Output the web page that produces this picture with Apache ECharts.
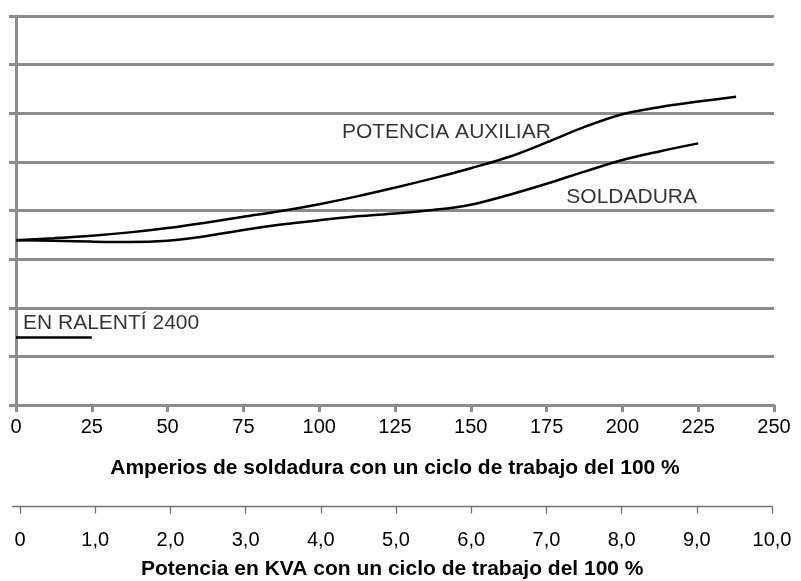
<!DOCTYPE html>
<html>
<head>
<meta charset="utf-8">
<script src="https://cdn.jsdelivr.net/npm/echarts@6/dist/echarts.min.js"></script>
<style>
  html, body { margin: 0; padding: 0; background: #fff; }
  #chart { width: 801px; height: 581px; }
</style>
</head>
<body>
<div id="chart"></div>
<script>
// Welding current (A) at which each curve is sampled
const amps = [0, 12.5, 25, 37.5, 50, 62.5, 75, 87.5, 100, 112.5, 125, 137.5, 150, 162.5, 175, 187.5, 200, 212.5, 225, 237.5];
// Engine speed curves (chart units, one per horizontal rule)
const potenciaAuxiliar = [3.39, 3.43, 3.48, 3.55, 3.64, 3.75, 3.87, 3.99, 4.13, 4.29, 4.47, 4.66, 4.87, 5.10, 5.40, 5.72, 5.98, 6.13, 6.24, 6.34];
const soldadura = [3.39, 3.38, 3.36, 3.35, 3.38, 3.47, 3.60, 3.71, 3.80, 3.88, 3.94, 4.01, 4.12, 4.32, 4.55, 4.80, 5.04, 5.22, 5.38];
// Idle speed segment
const ralentiX = [0, 25];
const ralentiY = 1.39;
// Axis tick labels
const ampTicks = [0, 25, 50, 75, 100, 125, 150, 175, 200, 225, 250];
const kvaTicks = [0, 1, 2, 3, 4, 5, 6, 7, 8, 9, 10];
const kvaLabels = ['0', '1,0', '2,0', '3,0', '4,0', '5,0', '6,0', '7,0', '8,0', '9,0', '10,0'];
// Curve captions: [x, y, text]
const notas = [
  [107.5, 5.62, 'POTENCIA AUXILIAR'],
  [181.5, 4.28, 'SOLDADURA'],
  [2.3, 1.68, 'EN RALENTÍ 2400']
];

const FONT = 'Liberation Sans';
const GRAY = '#8c8c8c';
const INK = '#000000';

const chart = echarts.init(document.getElementById('chart'), null, { renderer: 'canvas' });

const option = {
  backgroundColor: '#ffffff',
  animation: false,
  textStyle: { fontFamily: FONT },
  grid: [
    { left: 16, right: 27, top: 16, bottom: 176, containLabel: false },
    { left: 12.5, right: 29, top: 400, height: 106.7, containLabel: false }
  ],
  xAxis: [
    {
      type: 'value', gridIndex: 0, min: 0, max: 250, interval: 25,
      name: 'Amperios de soldadura con un ciclo de trabajo del 100 %',
      nameLocation: 'middle', nameGap: 52.5,
      nameTextStyle: { fontFamily: FONT, fontSize: 21, fontWeight: 'bold', color: INK },
      axisLine: { show: true, onZero: false, lineStyle: { color: GRAY, width: 3 } },
      axisTick: { show: true, length: 7, lineStyle: { color: GRAY, width: 3 } },
      axisLabel: { margin: 12, fontFamily: FONT, fontSize: 20, color: INK,
        formatter: v => ampTicks.includes(v) ? String(v) : '' },
      splitLine: { show: false }
    },
    {
      type: 'value', gridIndex: 1, min: -0.1, max: 10,
      name: 'Potencia en KVA con un ciclo de trabajo del 100 %',
      nameLocation: 'middle', nameGap: 52.5,
      nameTextStyle: { fontFamily: FONT, fontSize: 21, fontWeight: 'bold', color: INK },
      axisLine: { show: true, onZero: false, lineStyle: { color: '#707070', width: 1.3 } },
      axisTick: { show: true, length: 7, customValues: kvaTicks, lineStyle: { color: '#707070', width: 1.3 } },
      axisLabel: { margin: 24, fontFamily: FONT, fontSize: 20, color: INK, customValues: kvaTicks,
        formatter: v => kvaLabels[kvaTicks.indexOf(Math.round(v))] },
      splitLine: { show: false }
    }
  ],
  yAxis: [
    {
      type: 'value', gridIndex: 0, min: 0, max: 8, interval: 1,
      axisLine: { show: true, onZero: false, lineStyle: { color: GRAY, width: 3 } },
      axisTick: { show: true, length: 7, lineStyle: { color: GRAY, width: 3 } },
      axisLabel: { show: false },
      splitLine: { show: true, lineStyle: { color: GRAY, width: 3 } }
    },
    {
      type: 'value', gridIndex: 1, min: 0, max: 1, show: false,
      splitLine: { show: false }
    }
  ],
  series: [
    {
      name: 'POTENCIA AUXILIAR', type: 'line', xAxisIndex: 0, yAxisIndex: 0,
      data: amps.map((a, i) => [a, potenciaAuxiliar[i]]),
      smooth: 0.35, symbol: 'none', lineStyle: { color: '#000', width: 2.5 }, z: 5
    },
    {
      name: 'SOLDADURA', type: 'line', xAxisIndex: 0, yAxisIndex: 0,
      data: amps.slice(0, soldadura.length).map((a, i) => [a, soldadura[i]]),
      smooth: 0.35, symbol: 'none', lineStyle: { color: '#000', width: 2.5 }, z: 5
    },
    {
      name: 'EN RALENTÍ 2400', type: 'line', xAxisIndex: 0, yAxisIndex: 0,
      data: ralentiX.map(a => [a, ralentiY]),
      symbol: 'none', lineStyle: { color: '#000', width: 2.5 }, z: 5
    },
    {
      name: 'notas', type: 'scatter', xAxisIndex: 0, yAxisIndex: 0,
      data: notas, symbolSize: 0, silent: true, z: 6,
      label: {
        show: true, position: 'right', distance: 0,
        fontFamily: FONT, fontSize: 21, color: INK,
        formatter: p => p.data[2]
      }
    }
  ]
};

chart.setOption(option);
</script>
</body>
</html>
